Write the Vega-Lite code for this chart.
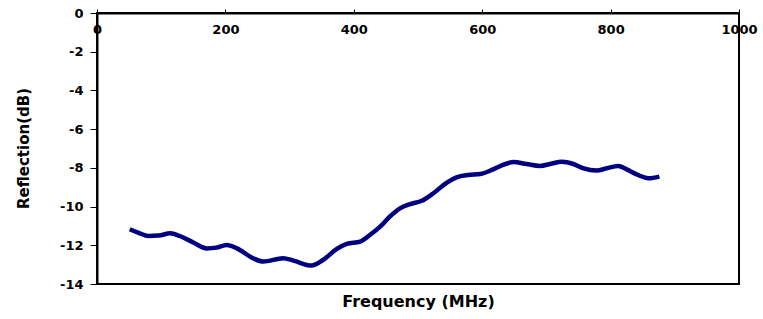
{
  "$schema": "https://vega.github.io/schema/vega-lite/v6.json",
  "width": 642,
  "height": 271,
  "autosize": "none",
  "padding": {"left": 97, "top": 13, "right": 24, "bottom": 35},
  "background": "white",
  "config": {
    "view": {"stroke": "black", "strokeWidth": 2},
    "axis": {
      "grid": false,
      "domainColor": "black",
      "domainWidth": 2,
      "tickColor": "black",
      "tickWidth": 1,
      "labelFont": "DejaVu Sans",
      "labelFontWeight": "bold",
      "labelFontSize": 13,
      "labelColor": "black",
      "titleFont": "DejaVu Sans",
      "titleFontWeight": "bold",
      "titleColor": "black"
    }
  },
  "data": {
    "values": [
      {"f": 51, "r": -11.17},
      {"f": 65, "r": -11.36},
      {"f": 80, "r": -11.52},
      {"f": 96, "r": -11.5},
      {"f": 114, "r": -11.38},
      {"f": 129, "r": -11.52},
      {"f": 150, "r": -11.86},
      {"f": 171, "r": -12.16},
      {"f": 186, "r": -12.12},
      {"f": 202, "r": -11.98},
      {"f": 218, "r": -12.16},
      {"f": 243, "r": -12.67},
      {"f": 259, "r": -12.84},
      {"f": 290, "r": -12.67},
      {"f": 306, "r": -12.79},
      {"f": 334, "r": -13.05},
      {"f": 352, "r": -12.76},
      {"f": 373, "r": -12.2},
      {"f": 389, "r": -11.93},
      {"f": 410, "r": -11.81},
      {"f": 425, "r": -11.47},
      {"f": 441, "r": -11.04},
      {"f": 456, "r": -10.52},
      {"f": 472, "r": -10.09},
      {"f": 488, "r": -9.87},
      {"f": 506, "r": -9.7},
      {"f": 524, "r": -9.31},
      {"f": 545, "r": -8.76},
      {"f": 560, "r": -8.49},
      {"f": 578, "r": -8.37},
      {"f": 597, "r": -8.32},
      {"f": 617, "r": -8.08},
      {"f": 636, "r": -7.8},
      {"f": 649, "r": -7.7},
      {"f": 669, "r": -7.8},
      {"f": 690, "r": -7.9},
      {"f": 706, "r": -7.8},
      {"f": 724, "r": -7.68},
      {"f": 742, "r": -7.8},
      {"f": 758, "r": -8.03},
      {"f": 778, "r": -8.14},
      {"f": 794, "r": -8.02},
      {"f": 812, "r": -7.9},
      {"f": 825, "r": -8.08},
      {"f": 843, "r": -8.37},
      {"f": 859, "r": -8.54},
      {"f": 876, "r": -8.45}
    ]
  },
  "mark": {"type": "line", "color": "#000080", "strokeWidth": 4.5, "interpolate": "monotone"},
  "encoding": {
    "x": {
      "field": "f",
      "type": "quantitative",
      "scale": {"domain": [0, 1000], "nice": false, "zero": false},
      "axis": {
        "orient": "bottom",
        "offset": -271,
        "values": [0, 200, 400, 600, 800, 1000],
        "labelExpr": "'' + datum.value",
        "tickSize": -4,
        "labelPadding": 14,
        "labelFlush": false,
        "labelOverlap": false,
        "title": "Frequency (MHz)",
        "titleFontSize": 16,
        "titleY": 288,
        "titleBaseline": "middle"
      }
    },
    "y": {
      "field": "r",
      "type": "quantitative",
      "scale": {"domain": [-14, 0], "nice": false, "zero": false},
      "axis": {
        "values": [0, -2, -4, -6, -8, -10, -12, -14],
        "labelExpr": "'' + datum.value",
        "tickSize": 7,
        "labelPadding": 7,
        "labelFlush": false,
        "labelOverlap": false,
        "title": "Reflection(dB)",
        "titleFontSize": 15,
        "titleAngle": -90,
        "titleX": -74,
        "titleY": 135,
        "titleAlign": "center",
        "titleBaseline": "middle"
      }
    }
  }
}
